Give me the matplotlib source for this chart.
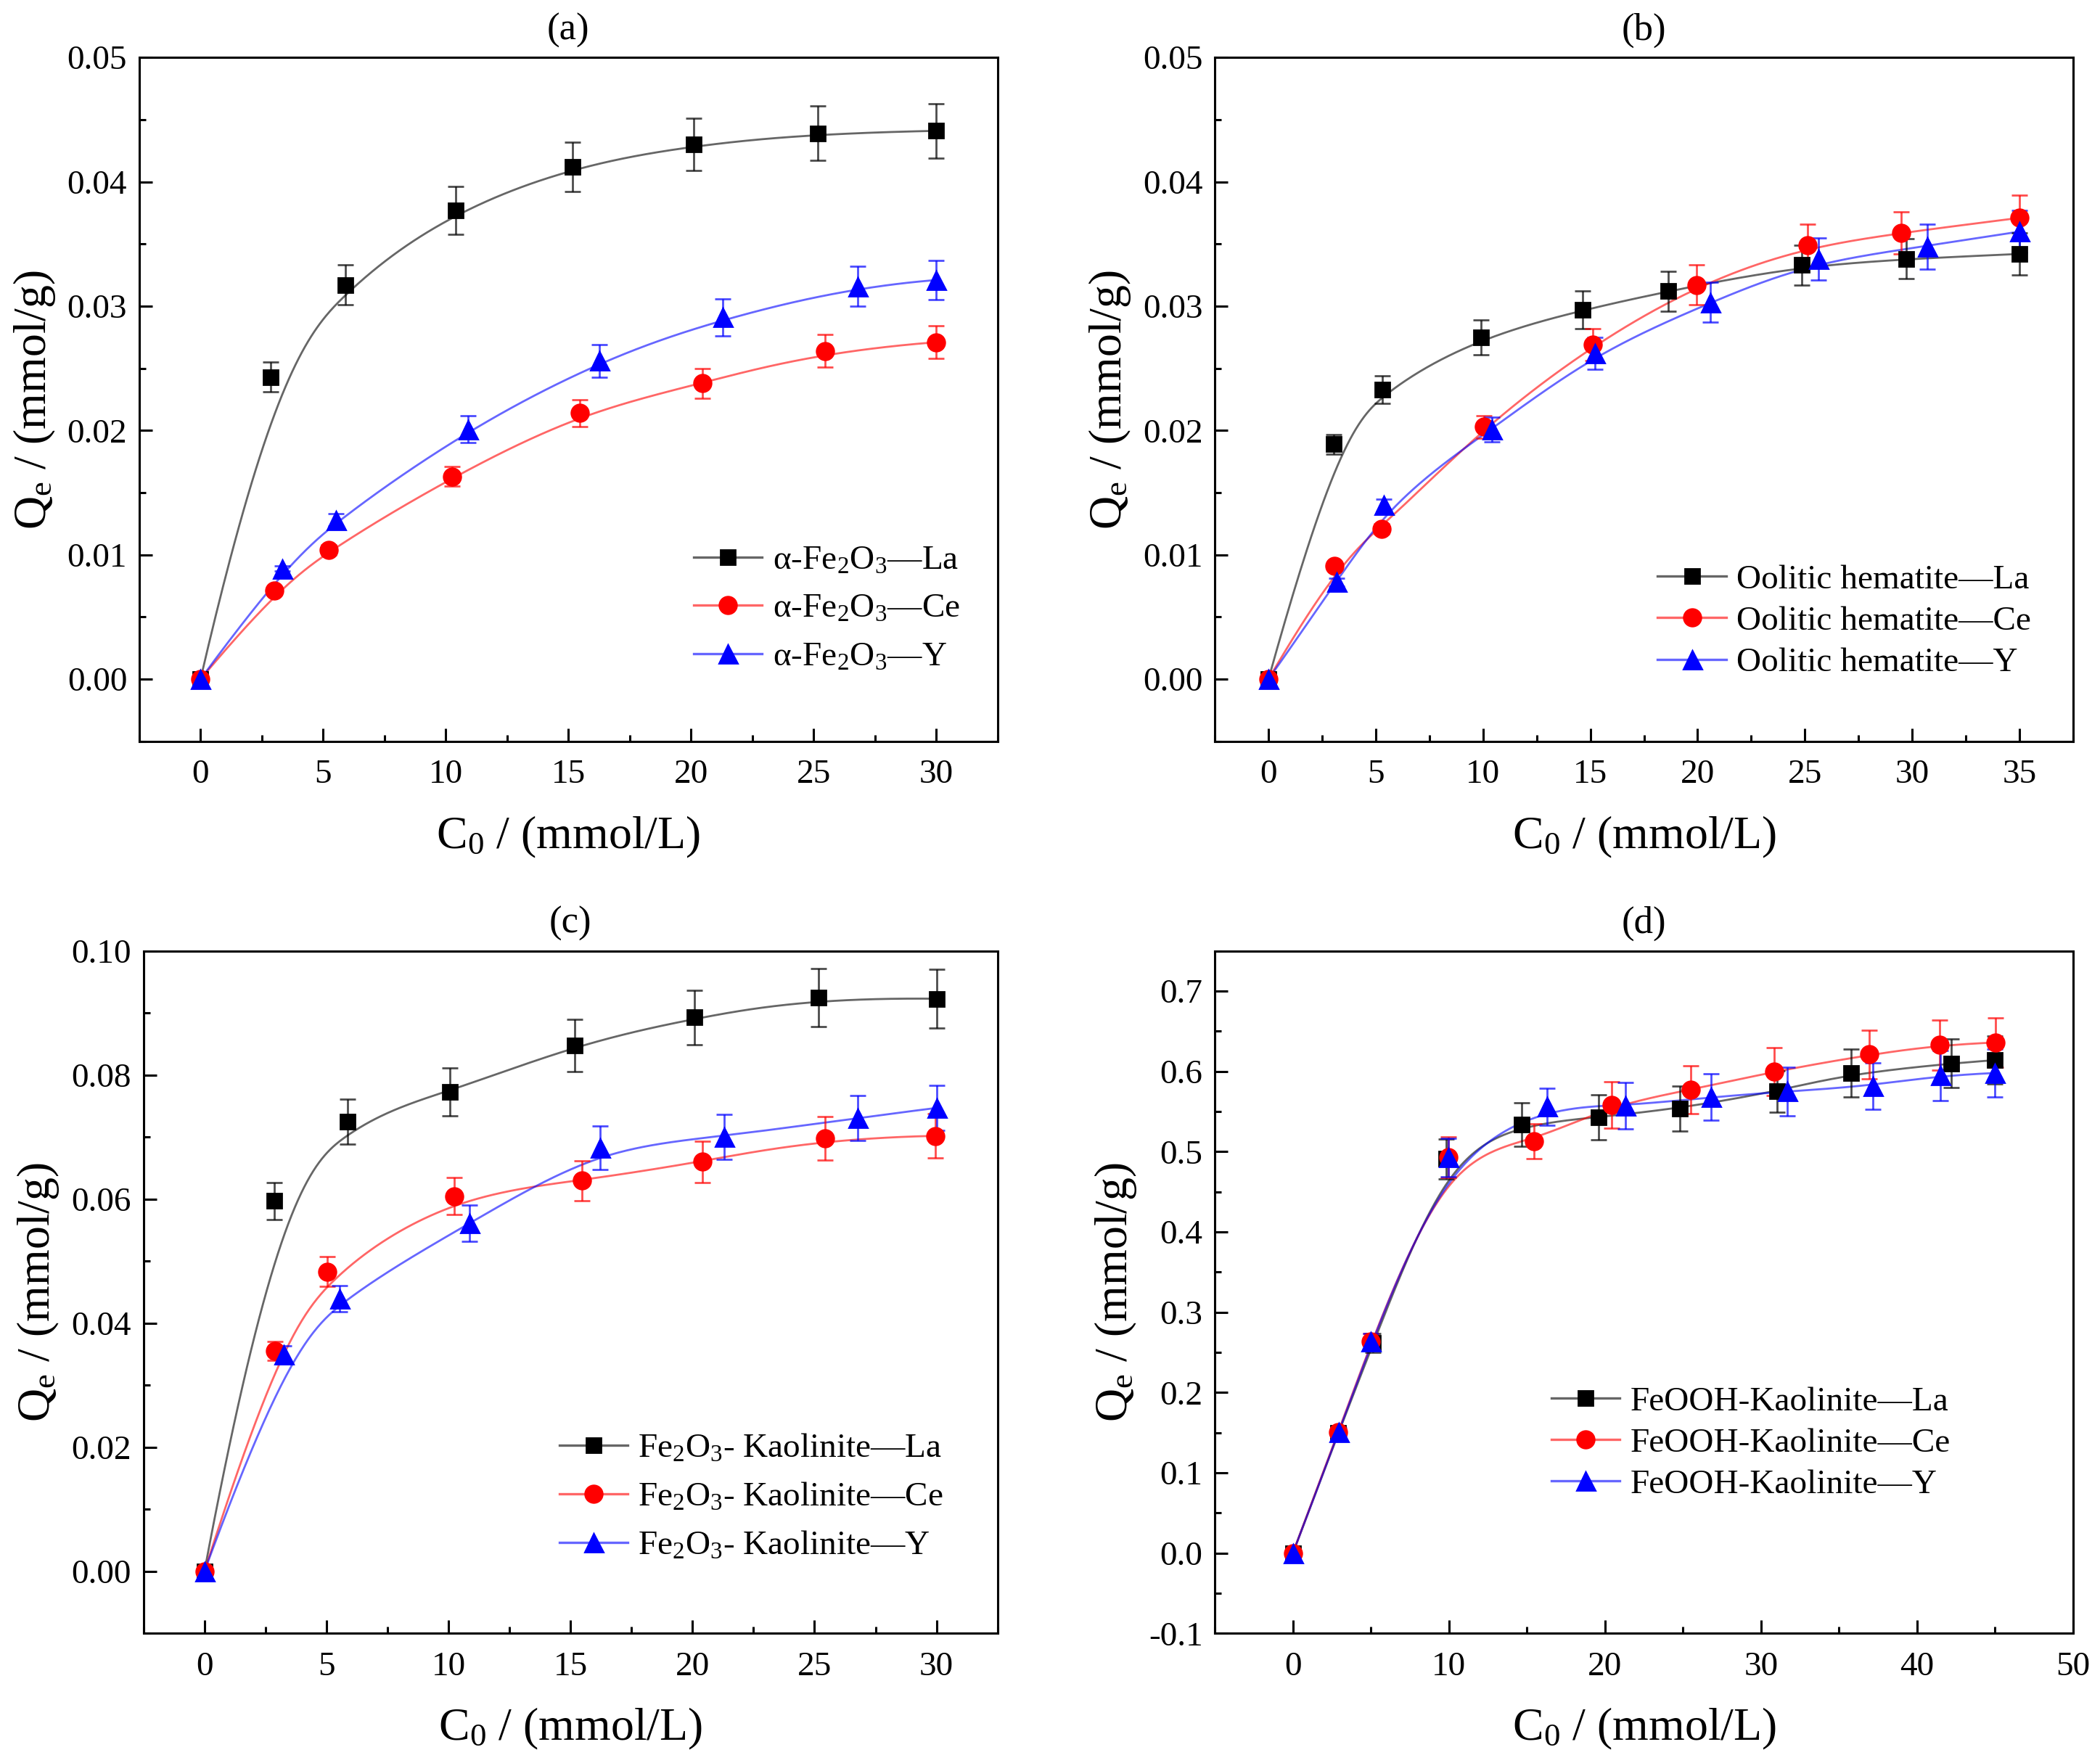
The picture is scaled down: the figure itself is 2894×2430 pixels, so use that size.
import matplotlib
matplotlib.use("Agg")
import matplotlib.pyplot as plt
from matplotlib.lines import Line2D
from matplotlib.ticker import MultipleLocator, FormatStrFormatter
import numpy as np

plt.rcParams['font.family'] = ['Liberation Serif', 'DejaVu Serif']
plt.rcParams['mathtext.fontset'] = 'custom'
plt.rcParams['mathtext.rm'] = 'Liberation Serif'
plt.rcParams['mathtext.default'] = 'regular'

# ---- data ----
# (a) alpha-Fe2O3
a_x_la = [0, 2.86, 5.91, 10.41, 15.18, 20.1, 25.18, 30]
a_y_la = [0, 0.0243, 0.0317, 0.0377, 0.0412, 0.0430, 0.0439, 0.0441]
a_e_la = [0, 0.0012, 0.0016, 0.0019, 0.0020, 0.0021, 0.0022, 0.0022]
a_x_ce = [0, 3.02, 5.23, 10.27, 15.48, 20.46, 25.48, 30]
a_y_ce = [0, 0.0071, 0.0104, 0.0163, 0.0214, 0.0238, 0.0264, 0.0271]
a_e_ce = [0, 0.0003, 0.0004, 0.0008, 0.0011, 0.0012, 0.0013, 0.0013]
a_x_y = [0, 3.32, 5.53, 10.9, 16.27, 21.3, 26.8, 30]
a_y_y = [0, 0.0089, 0.0128, 0.0201, 0.0256, 0.0291, 0.0316, 0.0321]
a_e_y = [0, 0.0002, 0.0005, 0.0011, 0.0013, 0.0015, 0.0016, 0.0016]

# (b) oolitic hematite
b_x_la = [0, 3.05, 5.29, 9.9, 14.64, 18.62, 24.85, 29.74, 35]
b_y_la = [0, 0.0189, 0.0233, 0.0275, 0.0297, 0.0312, 0.0333, 0.0338, 0.0342]
b_e_la = [0, 0.0008, 0.0011, 0.0014, 0.0015, 0.0016, 0.0016, 0.0016, 0.0017]
b_x_ce = [0, 3.08, 5.26, 10.03, 15.1, 19.96, 25.13, 29.5, 35]
b_y_ce = [0, 0.0091, 0.0121, 0.0203, 0.0269, 0.0317, 0.0349, 0.0359, 0.0371]
b_e_ce = [0, 0.0003, 0.0004, 0.0009, 0.0013, 0.0016, 0.0017, 0.0017, 0.0018]
b_x_y = [0, 3.18, 5.39, 10.4, 15.2, 20.58, 25.63, 30.7, 35]
b_y_y = [0, 0.0078, 0.0140, 0.0201, 0.0262, 0.0303, 0.0338, 0.0348, 0.0360]
b_e_y = [0, 0.0003, 0.0005, 0.0010, 0.0013, 0.0016, 0.0017, 0.0018, 0.0017]

# (c) Fe2O3-kaolinite
c_x_la = [0, 2.85, 5.86, 10.05, 15.17, 20.07, 25.16, 30]
c_y_la = [0, 0.0597, 0.0725, 0.0773, 0.0848, 0.0893, 0.0925, 0.0923]
c_e_la = [0, 0.0030, 0.0036, 0.0039, 0.0042, 0.0044, 0.0047, 0.0047]
c_x_ce = [0, 2.9, 5.04, 10.24, 15.47, 20.42, 25.43, 29.95]
c_y_ce = [0, 0.0355, 0.0483, 0.0605, 0.0630, 0.0660, 0.0698, 0.0702]
c_e_ce = [0, 0.0015, 0.0024, 0.0030, 0.0032, 0.0033, 0.0035, 0.0036]
c_x_y = [0, 3.26, 5.53, 10.87, 16.2, 21.3, 26.77, 30]
c_y_y = [0, 0.0349, 0.0440, 0.0561, 0.0683, 0.0700, 0.0731, 0.0747]
c_e_y = [0, 0.0015, 0.0021, 0.0029, 0.0035, 0.0036, 0.0036, 0.0036]

# (d) FeOOH-kaolinite
d_x_la = [0, 2.92, 5.15, 9.83, 14.64, 19.61, 24.8, 31.03, 35.75, 42.19, 44.98]
d_y_la = [0, 0.150, 0.262, 0.491, 0.534, 0.543, 0.554, 0.575, 0.598, 0.610, 0.614]
d_e_la = [0, 0.005, 0.012, 0.025, 0.027, 0.028, 0.028, 0.026, 0.030, 0.030, 0.030]
d_x_ce = [0, 2.92, 4.98, 9.96, 15.45, 20.43, 25.49, 30.86, 36.95, 41.46, 45.02]
d_y_ce = [0, 0.151, 0.264, 0.493, 0.513, 0.558, 0.577, 0.600, 0.621, 0.633, 0.636]
d_e_ce = [0, 0.005, 0.010, 0.025, 0.022, 0.029, 0.030, 0.030, 0.030, 0.031, 0.031]
d_x_y = [0, 2.96, 5.0, 9.96, 16.27, 21.33, 26.8, 31.67, 37.17, 41.5, 45]
d_y_y = [0, 0.151, 0.264, 0.493, 0.556, 0.557, 0.568, 0.575, 0.582, 0.595, 0.598]
d_e_y = [0, 0.005, 0.010, 0.024, 0.023, 0.029, 0.029, 0.030, 0.029, 0.031, 0.030]

a_names = ['α-Fe$_2$O$_3$—La', 'α-Fe$_2$O$_3$—Ce', 'α-Fe$_2$O$_3$—Y']
b_names = ['Oolitic hematite—La', 'Oolitic hematite—Ce', 'Oolitic hematite—Y']
c_names = ['Fe$_2$O$_3$- Kaolinite—La', 'Fe$_2$O$_3$- Kaolinite—Ce', 'Fe$_2$O$_3$- Kaolinite—Y']
d_names = ['FeOOH-Kaolinite—La', 'FeOOH-Kaolinite—Ce', 'FeOOH-Kaolinite—Y']

colors = ['#000000', '#ff0000', '#0000ff']
markers = ['s', 'o', '^']
msizes = [7.5, 8.5, 9]


def bspline(xs, ys, n=400, k=3):
    # clamped B-spline with the data points as control points (Origin style)
    P = np.column_stack([xs, ys])
    m = len(P)
    k = min(k, m - 1)
    knots = np.concatenate([np.zeros(k), np.linspace(0, 1, m - k + 1), np.ones(k)])
    t = np.linspace(0, 1, n)
    nb = len(knots) - 1
    B = np.zeros((n, nb))
    for i in range(nb):
        B[:, i] = (knots[i] <= t) & (t < knots[i + 1])
    last = np.nonzero(knots[:-1] < knots[1:])[0].max()
    B[-1, :] = 0
    B[-1, last] = 1
    for d in range(1, k + 1):
        Bn = np.zeros((n, nb - d))
        for i in range(nb - d):
            a = knots[i + d] - knots[i]
            b = knots[i + d + 1] - knots[i + 1]
            term = np.zeros(n)
            if a > 0:
                term += (t - knots[i]) / a * B[:, i]
            if b > 0:
                term += (knots[i + d + 1] - t) / b * B[:, i + 1]
            Bn[:, i] = term
        B = Bn
    C = B @ P
    return C[:, 0], C[:, 1]


fig = plt.figure(figsize=(14.47, 12.15), dpi=200)
boxes = {
    'a': [0.0663, 0.5795, 0.4087, 0.3879],
    'b': [0.5785, 0.5795, 0.4087, 0.3879],
    'c': [0.0683, 0.0735, 0.4067, 0.3871],
    'd': [0.5785, 0.0735, 0.4087, 0.3871],
}

panels = [
    ('a', [(a_x_la, a_y_la, a_e_la), (a_x_ce, a_y_ce, a_e_ce), (a_x_y, a_y_y, a_e_y)], a_names,
     (-2.5, 32.5), (-0.005, 0.05), 5, 0.01, '%.2f', (0.646, 0.10), 0.5),
    ('b', [(b_x_la, b_y_la, b_e_la), (b_x_ce, b_y_ce, b_e_ce), (b_x_y, b_y_y, b_e_y)], b_names,
     (-2.5, 37.5), (-0.005, 0.05), 5, 0.01, '%.2f', (0.516, 0.092), 0.3),
    ('c', [(c_x_la, c_y_la, c_e_la), (c_x_ce, c_y_ce, c_e_ce), (c_x_y, c_y_y, c_e_y)], c_names,
     (-2.5, 32.5), (-0.01, 0.10), 5, 0.02, '%.2f', (0.487, 0.105), 0.5),
    ('d', [(d_x_la, d_y_la, d_e_la), (d_x_ce, d_y_ce, d_e_ce), (d_x_y, d_y_y, d_e_y)], d_names,
     (-5, 50), (-0.1, 0.75), 10, 0.1, '%.1f', (0.392, 0.195), 0.3),
]

for key, series, names, xlim, ylim, xstep, ystep, yfmt, legpos, lspace in panels:
    ax = fig.add_axes(boxes[key])
    handles = []
    for (x, y, e), col, mk, ms, name in zip(series, colors, markers, msizes, names):
        rgba = matplotlib.colors.to_rgba(col, 0.6)
        sx, sy = bspline(x, y)
        ax.plot(sx, sy, color=rgba, lw=1.0, zorder=2)
        ax.errorbar(x, y, yerr=e, fmt='none', ecolor=matplotlib.colors.to_rgba(col, 0.7),
                    elinewidth=1.0, capsize=4, capthick=1.0, zorder=3)
        ax.plot(x, y, linestyle='none', marker=mk, ms=ms, mfc=col, mec=col, zorder=4)
        handles.append(Line2D([], [], color=rgba, lw=1.2, marker=mk, ms=ms, mfc=col, mec=col))

    ax.set_xlim(*xlim)
    ax.set_ylim(*ylim)
    ax.xaxis.set_major_locator(MultipleLocator(xstep))
    ax.xaxis.set_minor_locator(MultipleLocator(xstep / 2))
    ax.yaxis.set_major_locator(MultipleLocator(ystep))
    ax.yaxis.set_minor_locator(MultipleLocator(ystep / 2))
    ax.yaxis.set_major_formatter(FormatStrFormatter(yfmt))
    ax.xaxis.set_major_formatter(FormatStrFormatter('%d'))
    ax.tick_params(which='both', direction='in', top=False, right=False, width=1.1, labelsize=17)
    ax.tick_params(which='major', length=6.5)
    ax.tick_params(which='minor', length=3.2)
    ax.tick_params(axis='x', pad=9)
    ax.tick_params(axis='y', pad=6)
    for sp in ax.spines.values():
        sp.set_linewidth(1.1)

    ax.set_title('(%s)' % key, fontsize=19, pad=9)
    ax.set_xlabel('C$_0$ / (mmol/L)', fontsize=23, labelpad=12)
    ax.set_ylabel('Q$_e$ / (mmol/g)', fontsize=23, labelpad=5)

    ax.legend(handles, names, loc='lower left', bbox_to_anchor=legpos, frameon=False,
              fontsize=17, borderpad=0, handlelength=2.0, handletextpad=0.3,
              labelspacing=lspace, borderaxespad=0)

fig.savefig('out.png', dpi=200)
